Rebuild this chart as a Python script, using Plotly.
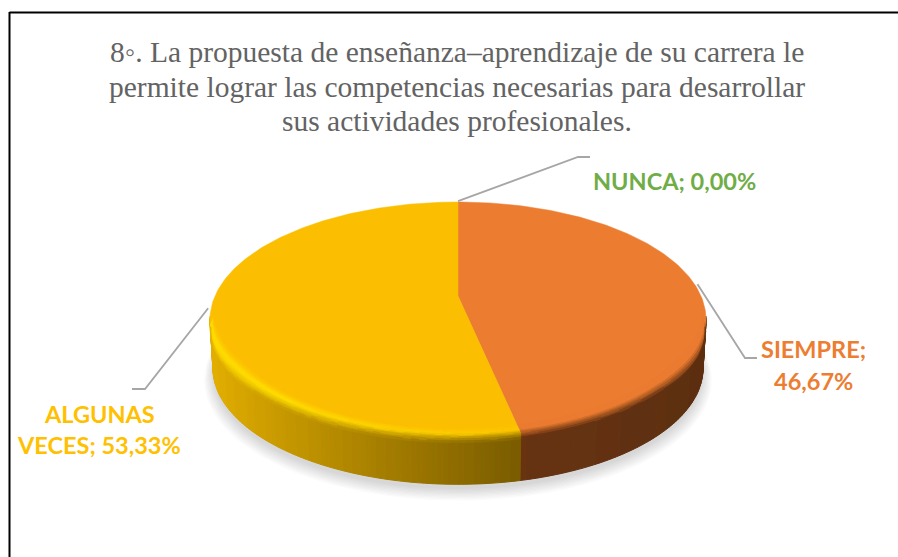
import math
import plotly.graph_objects as go

# ---- data ----
categories = ["NUNCA", "SIEMPRE", "ALGUNAS VECES"]
values = [0.00, 46.67, 53.33]
label_lines = [["NUNCA; {v}"], ["SIEMPRE;", "{v}"], ["ALGUNAS", "VECES; {v}"]]
title_lines = [
    "8◦. La propuesta de enseñanza–aprendizaje de su carrera le",
    "permite lograr las competencias necesarias para desarrollar",
    "sus actividades profesionales.",
]
text_colors = ["#70AD47", "#ED7D31", "#FFC000"]
top_colors = [(112, 173, 71), (235, 124, 48), (252, 190, 0)]

# ---- geometry of the 3D view ----
W, H = 898, 557
CX, CY, RX, RY, K = 458.0, 296.0, 243.0, 112.8, 0.2
DEPTH = 49.0
BOTTOM_SCALE = 0.988


def project(theta_deg, s=1.0, drop=0.0, shrink=1.0):
    t = math.radians(theta_deg)
    X, Y = s * math.sin(t), s * math.cos(t)
    d = 1 + K * Y
    return CX + shrink * RX * X / d, CY - shrink * RY * Y / d + drop


def lerp(a, b, t):
    t = max(0.0, min(1.0, t))
    return tuple(a[i] + (b[i] - a[i]) * t for i in range(3))


def wall_color(idx, x):
    if idx == 1:
        return lerp((104, 52, 18), (92, 46, 16), (x - 519) / 187)
    return lerp((226, 174, 0), (122, 92, 0), max(0.0, (x - 212) / 307) ** 0.9)


def bevel_color(idx, theta, p):
    x, _ = project(theta)
    wall = wall_color(idx, x)
    base = top_colors[idx]
    if idx == 1:
        if p < 0.4:
            return base
        return lerp(base, wall, (p - 0.4) / 0.55)
    glow = max(0.0, min(1.0, (theta - 172) / 45))
    hi = lerp((252, 200, 0), (255, 222, 0), glow)
    if p < 0.45:
        return lerp(base, hi, p / 0.45)
    return lerp(hi, wall, (p - 0.45) / 0.55)


polys = {}


def add_poly(color, pts):
    key = tuple(int(round(c / 3) * 3) for c in color)
    polys.setdefault(key, ([], []))
    xs, ys = polys[key]
    xs.extend([p[0] for p in pts] + [pts[0][0], None])
    ys.extend([p[1] for p in pts] + [pts[0][1], None])


fig = go.Figure()

# soft shadow
for i in range(10):
    e = 1.036 - i * 0.0042
    xs, ys = [], []
    for a in range(0, 361, 3):
        x, y = project(a, 1.0, DEPTH + 5 + (9 - i) * 0.7, BOTTOM_SCALE * e)
        xs.append(x)
        ys.append(y)
    fig.add_trace(go.Scatter(x=xs, y=ys, mode="lines", fill="toself", line=dict(width=0),
                             fillcolor="rgba(60,60,60,0.018)", hoverinfo="skip"))

# slices
total = sum(values)
start = 0.0
spans = []
for v in values:
    end = start + v / total * 360
    spans.append((start, end))
    start = end

VIS_A, VIS_B = 100.0, 260.0
for idx, (a0, a1) in enumerate(spans):
    if a1 <= a0:
        continue
    # side wall
    lo, hi = max(a0, VIS_A), min(a1, VIS_B)
    a = lo
    while a < hi:
        b = min(a + 1.0, hi)
        xm, _ = project((a + b) / 2)
        col = wall_color(idx, xm)
        add_poly(col, [project(a), project(b),
                       project(b, 1, DEPTH, BOTTOM_SCALE), project(a, 1, DEPTH, BOTTOM_SCALE)])
        a = b

for key, (xs, ys) in polys.items():
    c = "rgb(%d,%d,%d)" % key
    fig.add_trace(go.Scatter(x=xs, y=ys, mode="lines", fill="toself", fillcolor=c,
                             line=dict(color=c, width=1), hoverinfo="skip"))
polys.clear()

# top surface
for idx, (a0, a1) in enumerate(spans):
    if a1 <= a0:
        continue
    n = int(a1 - a0) + 2
    pts = [project(a0 + (a1 - a0) * i / n) for i in range(n + 1)]
    xs = [CX] + [p[0] for p in pts] + [CX]
    ys = [CY] + [p[1] for p in pts] + [CY]
    c = "rgb(%d,%d,%d)" % top_colors[idx]
    fig.add_trace(go.Scatter(x=xs, y=ys, mode="lines", fill="toself", fillcolor=c,
                             line=dict(color=c, width=0.5), hoverinfo="skip"))

# bevel around the front rim
BANDS = 9
S_IN = 0.95
WALL_PX = 6.0


def side_drop(theta):
    # the lit rim rolls further down the wall towards the two side extremes
    return 10.0 * max(0.0, min(1.0, (abs(theta - 180) - 45) / 35))


def band_point(theta, u, w):
    D = side_drop(theta)
    if u <= 0.7:
        return project(theta, 1 - (1 - S_IN) * w * (1 - u / 0.7), D * u / 0.7)
    f = (u - 0.7) / 0.3
    return project(theta, 1, D + WALL_PX * w * f, 1 - (1 - BOTTOM_SCALE) * (D + WALL_PX * w * f) / DEPTH)


for idx, (a0, a1) in enumerate(spans):
    if a1 <= a0:
        continue
    lo, hi = max(a0, VIS_A), min(a1, VIS_B)
    a = lo
    while a < hi:
        b = min(a + 1.5, hi)
        mid = (a + b) / 2
        wa = min(1.0, min(a - VIS_A, VIS_B - a) / 25.0)
        wb = min(1.0, min(b - VIS_A, VIS_B - b) / 25.0)
        wa, wb = 0.25 + 0.75 * wa, 0.25 + 0.75 * wb
        for j in range(BANDS):
            u0, u1 = j / BANDS, (j + 1) / BANDS
            col = bevel_color(idx, mid, (u0 + u1) / 2)
            add_poly(col, [band_point(a, u0, wa), band_point(b, u0, wb),
                           band_point(b, u1, wb), band_point(a, u1, wa)])
        a = b

for key, (xs, ys) in polys.items():
    c = "rgb(%d,%d,%d)" % key
    fig.add_trace(go.Scatter(x=xs, y=ys, mode="lines", fill="toself", fillcolor=c,
                             line=dict(color=c, width=0.6), hoverinfo="skip"))

# leader lines, starting on the rim at each slice's mid angle
elbows = [((578, 157), (590, 157)), ((745, 358), (757, 358)), ((145, 389), (132, 389))]
for (a0, a1), (e1, e2) in zip(spans, elbows):
    p = project((a0 + a1) / 2, 1.012)
    fig.add_trace(go.Scatter(x=[p[0], e1[0], e2[0]], y=[p[1], e1[1], e2[1]], mode="lines",
                             line=dict(color="#A6A6A6", width=1.8), hoverinfo="skip"))

annotations = []
# title
for line, y in zip(title_lines, [52, 87, 121]):
    annotations.append(dict(x=457, y=y, xref="x", yref="y", text=line, showarrow=False,
                            font=dict(family="Liberation Serif", size=29.5, color="#636363"),
                            xanchor="center", yanchor="middle"))
# labels
label_pos = [(674.5, [181]), (813, [349, 381]), (99, [414, 445])]
for v, lines, col, (x, ys) in zip(values, label_lines, text_colors, label_pos):
    vtxt = f"{v:.2f}".replace(".", ",") + "%"
    for line, y in zip(lines, ys):
        annotations.append(dict(x=x, y=y, xref="x", yref="y", text="<b>" + line.format(v=vtxt) + "</b>",
                                showarrow=False, font=dict(family="Lato", size=23.5, color=col),
                                xanchor="center", yanchor="middle"))

# chart frame (only top and left edges are in view)
shapes = [
    dict(type="line", xref="x", yref="y", x0=9.5, x1=898, y0=12.5, y1=12.5, line=dict(color="#000", width=2)),
    dict(type="line", xref="x", yref="y", x0=9.5, x1=9.5, y0=12, y1=557, line=dict(color="#000", width=2)),
]

fig.update_layout(
    width=W, height=H, autosize=False,
    margin=dict(l=0, r=0, t=0, b=0),
    paper_bgcolor="white", plot_bgcolor="white",
    showlegend=False,
    xaxis=dict(range=[0, W], visible=False, fixedrange=True),
    yaxis=dict(range=[H, 0], visible=False, fixedrange=True),
    annotations=annotations, shapes=shapes,
)
fig.write_html("out.html", post_script="document.body.style.margin='0';window.dispatchEvent(new Event('resize'));",
               config={"displayModeBar": False})
